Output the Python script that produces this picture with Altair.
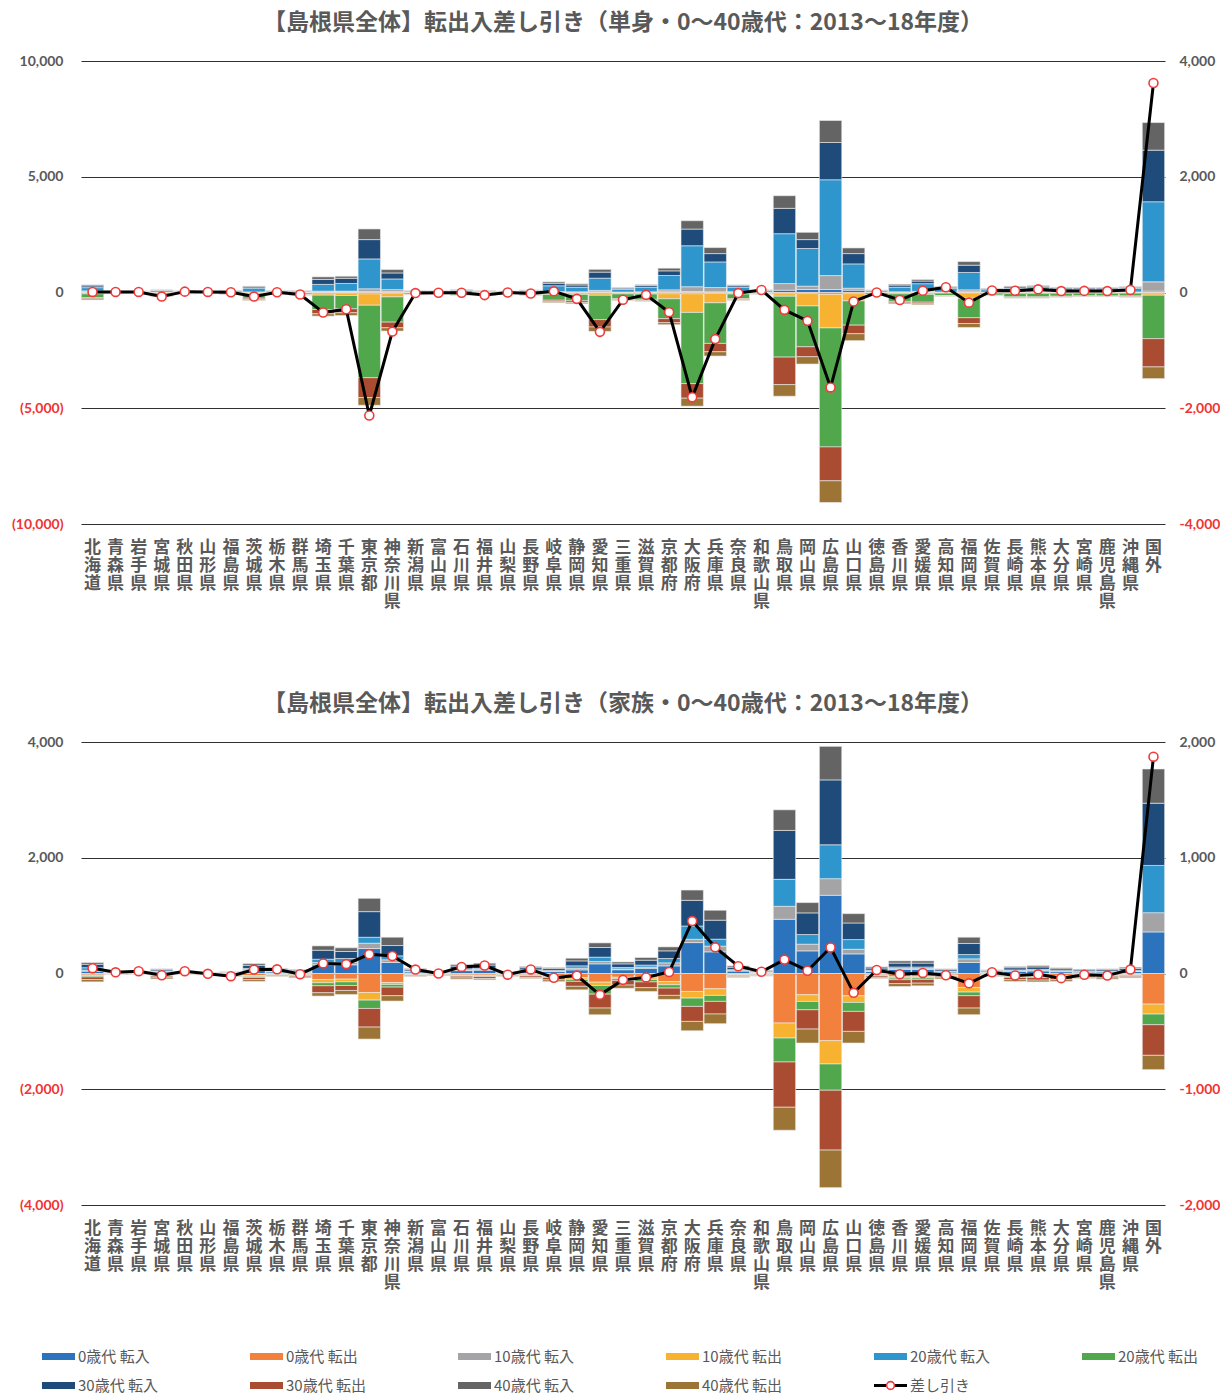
import altair as alt
import pandas as pd

# Destinations / origins (Shimane itself excluded) plus overseas
prefectures = ["北海道", "青森県", "岩手県", "宮城県", "秋田県", "山形県", "福島県", "茨城県",
               "栃木県", "群馬県", "埼玉県", "千葉県", "東京都", "神奈川県", "新潟県", "富山県",
               "石川県", "福井県", "山梨県", "長野県", "岐阜県", "静岡県", "愛知県", "三重県",
               "滋賀県", "京都府", "大阪府", "兵庫県", "奈良県", "和歌山県", "鳥取県", "岡山県",
               "広島県", "山口県", "徳島県", "香川県", "愛媛県", "高知県", "福岡県", "佐賀県",
               "長崎県", "熊本県", "大分県", "宮崎県", "鹿児島県", "沖縄県", "国外"]

in_names = ["0歳代 転入", "10歳代 転入", "20歳代 転入", "30歳代 転入", "40歳代 転入"]
out_names = ["0歳代 転出", "10歳代 転出", "20歳代 転出", "30歳代 転出", "40歳代 転出"]
net_name = "差し引き"

# ---- 単身 (single persons), persons moved 2013-18 ----
single_in0 = [40, 5, 5, 10, 5, 5, 10, 15, 5, 5, 30, 30, 45, 40, 5, 5, 10, 5, 5, 10, 20, 15, 30, 10,
              15, 30, 40, 30, 15, 5, 100, 130, 130, 100, 10, 15, 25, 10, 30, 10, 15, 15, 15, 10, 15, 15, 60]
single_in10 = [30, 5, 5, 5, 5, 5, 5, 10, 5, 5, 30, 30, 115, 85, 5, 5, 5, 5, 5, 5, 20, 15, 60, 10,
               15, 85, 210, 185, 20, 5, 285, 145, 600, 85, 5, 15, 25, 10, 85, 5, 10, 10, 10, 10, 10, 10, 400]
single_in20 = [140, 35, 35, 65, 40, 35, 55, 165, 50, 45, 290, 330, 1290, 460, 50, 40, 70, 45, 30, 60, 250, 200, 530, 120,
               200, 620, 1770, 1105, 195, 65, 2155, 1625, 4140, 1050, 60, 200, 330, 150, 750, 105, 160, 180, 135, 125, 125, 150, 3460]
single_in30 = [75, 10, 10, 25, 15, 10, 20, 55, 20, 20, 215, 225, 835, 260, 20, 15, 30, 15, 15, 25, 110, 95, 260, 50,
               75, 200, 720, 360, 65, 25, 1095, 385, 1610, 445, 25, 90, 115, 60, 315, 40, 60, 65, 50, 50, 45, 50, 2230]
single_in40 = [45, 5, 5, 10, 5, 5, 10, 30, 10, 10, 110, 90, 460, 145, 10, 5, 15, 10, 5, 10, 60, 50, 120, 25,
               35, 115, 360, 260, 35, 15, 545, 315, 950, 245, 10, 40, 65, 30, 155, 20, 30, 30, 20, 20, 20, 25, 1190]
single_out0 = [20, 5, 5, 10, 5, 5, 5, 15, 5, 5, 25, 25, 60, 40, 5, 5, 5, 5, 5, 10, 20, 20, 30, 15,
               15, 55, 55, 45, 15, 5, 50, 50, 80, 50, 5, 15, 20, 10, 30, 10, 10, 10, 10, 10, 10, 10, 30]
single_out10 = [40, 10, 10, 25, 10, 10, 15, 35, 15, 20, 90, 105, 490, 150, 15, 10, 20, 20, 10, 20, 65, 60, 90, 45,
                50, 215, 805, 400, 50, 10, 110, 530, 1450, 310, 15, 40, 60, 20, 220, 20, 30, 30, 25, 20, 25, 20, 85]
single_out20 = [160, 25, 25, 105, 30, 25, 55, 200, 45, 70, 620, 575, 3130, 1090, 60, 45, 85, 75, 30, 70, 250, 280, 1050, 200,
                230, 860, 3075, 1755, 200, 40, 2630, 1765, 5140, 1050, 70, 330, 340, 105, 840, 85, 150, 150, 125, 115, 115, 120, 1880]
single_out30 = [55, 5, 5, 30, 5, 5, 10, 60, 10, 15, 185, 170, 860, 245, 10, 10, 15, 15, 10, 15, 65, 75, 320, 50,
                50, 175, 630, 360, 45, 10, 1190, 430, 1465, 370, 10, 65, 70, 20, 250, 20, 35, 35, 30, 25, 25, 35, 1220]
single_out40 = [45, 5, 5, 15, 5, 5, 10, 35, 10, 10, 100, 120, 330, 140, 10, 5, 10, 10, 5, 12, 40, 50, 190, 30,
                35, 85, 345, 185, 30, 7, 500, 315, 935, 300, 10, 40, 40, 15, 170, 10, 20, 20, 15, 17, 15, 20, 505]

# ---- 家族 (families), persons moved 2013-18 ----
family_in0 = [40, 10, 12, 25, 12, 6, 9, 55, 27, 22, 150, 150, 431, 190, 28, 13, 50, 57, 13, 39, 33, 63, 167, 65,
              90, 132, 534, 374, 42, 20, 937, 391, 1351, 339, 37, 70, 70, 26, 190, 20, 39, 44, 31, 24, 26, 35, 718]
family_in10 = [15, 3, 4, 8, 4, 2, 3, 12, 7, 6, 40, 40, 92, 46, 7, 3, 12, 14, 3, 10, 8, 29, 40, 14,
               20, 52, 57, 98, 10, 5, 224, 115, 287, 80, 9, 17, 17, 6, 63, 5, 9, 11, 8, 6, 6, 8, 333]
family_in20 = [45, 5, 7, 12, 7, 3, 5, 20, 10, 8, 57, 69, 103, 69, 10, 5, 18, 20, 5, 14, 12, 40, 75, 25,
               35, 75, 230, 121, 15, 7, 466, 167, 586, 167, 13, 25, 25, 9, 75, 7, 14, 16, 11, 9, 9, 12, 816]
family_in30 = [60, 8, 11, 22, 11, 6, 8, 55, 27, 21, 155, 121, 443, 178, 27, 12, 48, 55, 12, 37, 32, 86, 167, 63,
               85, 132, 443, 328, 42, 18, 845, 374, 1121, 287, 36, 68, 68, 25, 190, 20, 38, 43, 31, 23, 25, 34, 1075]
family_in40 = [30, 4, 6, 13, 6, 3, 4, 30, 15, 12, 75, 63, 230, 144, 14, 7, 27, 32, 7, 21, 18, 46, 80, 33,
               46, 69, 178, 172, 23, 10, 356, 178, 580, 161, 20, 38, 38, 14, 109, 11, 21, 24, 17, 13, 14, 20, 592]
family_out0 = [25, 5, 5, 25, 5, 6, 14, 35, 13, 20, 103, 98, 328, 155, 13, 10, 25, 28, 13, 22, 36, 72, 150, 65,
               75, 138, 310, 264, 18, 12, 856, 368, 1161, 385, 22, 58, 55, 25, 241, 14, 37, 38, 37, 23, 26, 19, 529]
family_out10 = [15, 2, 2, 10, 2, 2, 5, 15, 5, 8, 57, 46, 132, 34, 5, 4, 10, 11, 5, 9, 15, 29, 57, 25,
                30, 57, 115, 115, 7, 5, 259, 115, 402, 115, 9, 22, 21, 10, 80, 5, 14, 15, 14, 9, 10, 8, 172]
family_out20 = [20, 3, 3, 12, 3, 3, 7, 18, 7, 10, 52, 63, 144, 46, 7, 5, 12, 14, 7, 11, 18, 35, 150, 30,
                40, 57, 144, 103, 9, 6, 414, 144, 454, 155, 11, 27, 26, 12, 63, 7, 17, 18, 17, 11, 12, 9, 184]
family_out30 = [45, 6, 6, 28, 6, 7, 15, 40, 15, 22, 121, 86, 322, 149, 15, 12, 30, 33, 15, 26, 42, 86, 240, 80,
                100, 126, 259, 218, 20, 13, 782, 333, 1034, 345, 25, 68, 65, 28, 213, 15, 41, 43, 41, 25, 29, 22, 529]
family_out40 = [39, 4, 4, 20, 4, 5, 11, 30, 10, 15, 57, 69, 207, 92, 12, 9, 21, 23, 10, 18, 29, 60, 116, 55,
                65, 69, 161, 167, 15, 9, 397, 241, 649, 201, 18, 49, 46, 20, 115, 11, 29, 31, 29, 18, 21, 17, 247]

series_order = ["0歳代 転入", "0歳代 転出", "10歳代 転入", "10歳代 転出", "20歳代 転入",
                "20歳代 転出", "30歳代 転入", "30歳代 転出", "40歳代 転入", "40歳代 転出"]
series_colors = ["#2B73BC", "#F2813D", "#A4A4A6", "#F8B232", "#2F96CD",
                 "#51A84C", "#1F4B7B", "#A94C31", "#646464", "#9B7436"]

TEXT = "#595959"
NEG = "#F03434"
LATIN = "Lato, 'Noto Sans CJK JP', sans-serif"
CJK = "'Noto Sans CJK JP', sans-serif"

color_scale = alt.Scale(domain=series_order, range=series_colors)


def long_table(ins, outs):
    rows = []
    for k, (name, vals) in enumerate(zip(in_names, ins)):
        for p, v in zip(prefectures, vals):
            rows.append({"pref": p, "series": name, "value": v, "ord": k})
    for k, (name, vals) in enumerate(zip(out_names, outs)):
        for p, v in zip(prefectures, vals):
            # outflows are drawn below zero
            rows.append({"pref": p, "series": name, "value": -v, "ord": k})
    return pd.DataFrame(rows)


def net_table(ins, outs):
    net = [sum(a) - sum(b) for a, b in zip(zip(*ins), zip(*outs))]
    return pd.DataFrame({"pref": prefectures, "net": net})


def panel(title, ins, outs, lmax, lstep, rmax, rstep, gap_below=0):
    axis_kw = dict(title=None)
    if gap_below:
        # blank axis title keeps extra room under the prefecture names
        axis_kw = dict(title=" ", titleFontSize=10, titlePadding=gap_below - 10)
    x = alt.X("pref:N", sort=prefectures,
              scale=alt.Scale(paddingInner=0.03, paddingOuter=0.015),
              axis=alt.Axis(labelAngle=0, labelExpr="split(datum.label, '')",
                            labelFont=CJK, labelFontSize=17, labelFontWeight="bold",
                            labelColor=TEXT, labelLineHeight=18, labelBaseline="top",
                            labelPadding=15, ticks=False, domain=False, **axis_kw))
    lvals = list(range(-lmax, lmax + 1, lstep))
    rvals = list(range(-rmax, rmax + 1, rstep))
    bars = alt.Chart(long_table(ins, outs)).mark_bar(
        stroke="#EDEDED", strokeWidth=0.6
    ).encode(
        x=x,
        y=alt.Y("value:Q", stack="zero",
                scale=alt.Scale(domain=[-lmax, lmax], nice=False),
                axis=alt.Axis(title=None, values=lvals, grid=True, gridColor="#303030",
                              gridWidth=1.2, ticks=False, domain=False,
                              labelFont=LATIN, labelFontSize=14, labelFontWeight="bold",
                              labelExpr="datum.value < 0 ? '(' + format(-datum.value, ',') + ')' : format(datum.value, ',')",
                              labelColor={"condition": {"test": "datum.value < 0", "value": NEG}, "value": TEXT},
                              labelPadding=18, minExtent=81, maxExtent=81)),
        color=alt.Color("series:N", scale=color_scale, legend=None),
        order=alt.Order("ord:Q", sort="ascending"),
    )
    line = alt.Chart(net_table(ins, outs)).mark_line(
        color="black", strokeWidth=3,
        point=alt.OverlayMarkDef(filled=True, fill="white", stroke="#F23A3A",
                                 strokeWidth=1.6, size=80, opacity=1),
    ).encode(
        x=x,
        y=alt.Y("net:Q", scale=alt.Scale(domain=[-rmax, rmax], nice=False),
                axis=alt.Axis(title=None, orient="right", values=rvals, grid=False,
                              ticks=False, domain=False,
                              labelFont=LATIN, labelFontSize=14, labelFontWeight="bold",
                              labelExpr="datum.value < 0 ? '-' + format(-datum.value, ',') : format(datum.value, ',')",
                              labelColor={"condition": {"test": "datum.value < 0", "value": NEG}, "value": TEXT},
                              labelPadding=14)),
    )
    return alt.layer(bars, line).resolve_scale(y="independent").properties(
        width=1084, height=463,
        title=alt.TitleParams(title, font=CJK, fontSize=23, fontWeight="bold",
                              color=TEXT, offset=19),
    )


single_in = [single_in0, single_in10, single_in20, single_in30, single_in40]
single_out = [single_out0, single_out10, single_out20, single_out30, single_out40]
family_in = [family_in0, family_in10, family_in20, family_in30, family_in40]
family_out = [family_out0, family_out10, family_out20, family_out30, family_out40]

top = panel("【島根県全体】転出入差し引き（単身・0～40歳代：2013～18年度）",
            single_in, single_out, 10000, 5000, 4000, 2000, gap_below=32)
bottom = panel("【島根県全体】転出入差し引き（家族・0～40歳代：2013～18年度）",
               family_in, family_out, 4000, 2000, 2000, 1000)

# Legend: two rows of six entries, first column starting left of the plot edge
legend_names = series_order + [net_name]
legend_df = pd.DataFrame({
    "name": legend_names,
    "col": [i % 6 for i in range(len(legend_names))],
    "row": [i // 6 for i in range(len(legend_names))],
})
lx = alt.X("col:Q", scale=alt.Scale(domain=[0.1875, 5.399], nice=False, zero=False), axis=None)
ly = alt.Y("row:Q", scale=alt.Scale(domain=[-0.5, 1.5], reverse=True), axis=None)
swatch = alt.Chart(legend_df).transform_filter(
    alt.datum.name != net_name
).mark_rule(strokeWidth=7, x2Offset=33).encode(
    x=lx, x2="col:Q", y=ly,
    color=alt.Color("name:N", scale=color_scale, legend=None),
)
net_base = alt.Chart(legend_df).transform_filter(alt.datum.name == net_name)
net_rule = net_base.mark_rule(strokeWidth=3, color="black", x2Offset=33).encode(x=lx, x2="col:Q", y=ly)
net_pt = net_base.mark_point(filled=True, fill="white", stroke="#F23A3A", strokeWidth=1.6,
                             size=60, opacity=1, xOffset=16.5).encode(x=lx, y=ly)
labels = alt.Chart(legend_df).mark_text(
    align="left", baseline="middle", dx=36, font=CJK, fontSize=15, color=TEXT
).encode(x=lx, y=ly, text="name:N")
legend = alt.layer(swatch, net_rule, net_pt, labels).properties(width=1084, height=58)

chart = alt.vconcat(top, bottom, legend, spacing=52).properties(
    padding={"left": 0, "top": 12, "right": 0, "bottom": 0},
    background="white",
).configure_view(stroke=None)

chart.save("out.html", embed_options={"renderer": "svg", "actions": False})
